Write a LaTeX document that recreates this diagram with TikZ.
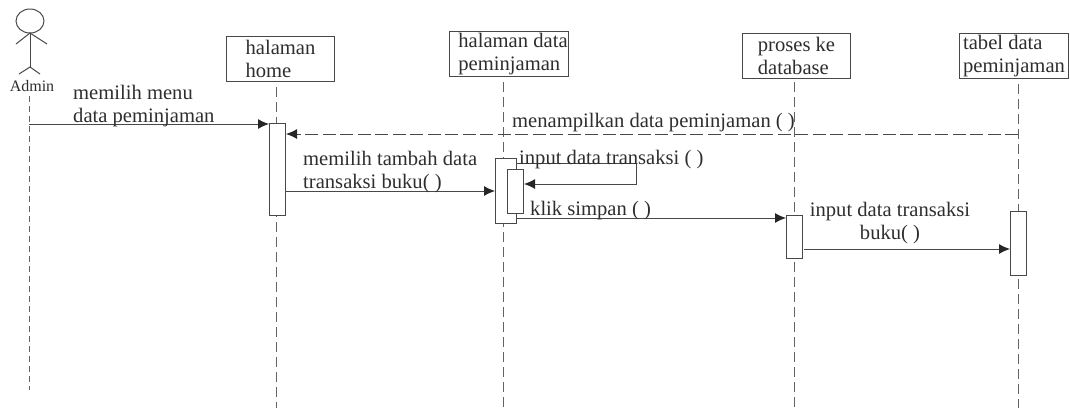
\documentclass[tikz,border=0pt]{standalone}
\usepackage{fontspec}
\setmainfont{Liberation Serif}
\usetikzlibrary{arrows.meta}
\definecolor{ink}{HTML}{2E2E2E}
\definecolor{wire}{HTML}{484848}
\tikzset{
  lifebox/.style={draw=wire,line width=1pt,fill=white,inner sep=0pt,anchor=north west,align=left,text=ink,minimum height=45pt,font=\fontsize{20.6}{23}\selectfont},
  act/.style={draw=wire,line width=1pt,fill=white,inner sep=0pt,anchor=north west,minimum width=16pt},
  lifeline/.style={draw=wire!85,line width=1pt,dash pattern=on 10pt off 5pt},
  msg/.style={draw=wire,line width=1pt,-{Latex[length=11pt,width=10pt,color=black!85]}},
  rmsg/.style={msg,dash pattern=on 13pt off 4.5pt},
  lbl/.style={text=ink,inner sep=0pt,anchor=base west,align=left,font=\fontsize{20.6}{23}\selectfont},
  actor/.style={draw=wire,line width=1pt}
}
\begin{document}
\begin{tikzpicture}[x=1pt,y=-1pt]
\useasboundingbox (0,0) rectangle (1070,410);
% lifelines
\coordinate (adminTop) at (29,96);   \coordinate (adminEnd) at (29,390);
\coordinate (homeTop) at (276,87);   \coordinate (homeEnd) at (276,408);
\coordinate (dataTop) at (503,82);   \coordinate (dataEnd) at (503,408);
\coordinate (prosTop) at (794,82);   \coordinate (prosEnd) at (794,408);
\coordinate (tabTop) at (1018,84);   \coordinate (tabEnd) at (1018,408);
\draw[lifeline,dash pattern=on 6pt off 4pt] (adminTop) -- (adminEnd);
\draw[lifeline] (homeTop) -- (homeEnd);
\draw[lifeline] (dataTop) -- (dataEnd);
\draw[lifeline] (prosTop) -- (prosEnd);
\draw[lifeline] (tabTop) -- (tabEnd);
% actor
\draw[actor] (30,21) ellipse [x radius=14,y radius=12];
\draw[actor] (30,33) -- (30,67);
\draw[actor] (16,44) -- (30,33) -- (47,44);
\draw[actor] (19,74) -- (30,67) -- (40,74);
\node[lbl,anchor=base,font=\fontsize{16}{18}\selectfont] (admin) at (32,91) {Admin};
% object boxes
\node[lifebox,minimum width=108pt] (home) at (226,36) {halaman\\home};
\node[lifebox,minimum width=119pt] (data) at (449,31) {\hspace*{8pt}halaman data\\\hspace*{8pt}peminjaman};
\node[lifebox,minimum width=108pt] (pros) at (742,33) {proses ke\\database};
\node[lifebox,minimum width=109pt] (tab) at (959,33) {tabel data\\peminjaman};
% activations
\node[act,minimum height=92pt] (homeAct) at (269,123) {};
\node[act,minimum width=21pt,minimum height=65pt] (dataAct) at (495,158) {};
\node[act,minimum height=44pt] (selfAct) at (507,169) {};
\node[act,minimum height=43pt] (prosAct) at (786,215) {};
\node[act,minimum height=64pt] (tabAct) at (1010,211) {};
% messages
\coordinate (m1) at (29,124);
\draw[msg] (m1) -- (m1 -| homeAct.west);
\coordinate (m2) at (1018,134);
\draw[rmsg] (m2) -- (m2 -| homeAct.east);
\coordinate (m3) at (285,191);
\draw[msg] (m3) -- (m3 -| dataAct.west);
\coordinate (m4) at (516,163);
\coordinate (m4b) at (636,163);
\coordinate (m4c) at (636,184);
\draw[msg] (m4) -- (m4b) -- (m4c) -- (m4c -| selfAct.east);
\coordinate (m5) at (516,218);
\draw[msg] (m5) -- (m5 -| prosAct.west);
\coordinate (m6) at (804,249);
\draw[msg] (m6) -- (m6 -| tabAct.west);
% labels
\node[lbl] (t1) at (73,122) {memilih menu\\data peminjaman};
\node[lbl] (t2) at (512,127) {menampilkan data peminjaman ( )};
\node[lbl] (t3) at (303,188) {memilih tambah data\\transaksi buku( )};
\node[lbl] (t4) at (519,164) {input data transaksi ( )};
\node[lbl] (t5) at (530,215) {klik simpan ( )};
\node[lbl,align=center,anchor=base] (t6) at (890,239) {input data transaksi\\buku( )};
\end{tikzpicture}
\end{document}
